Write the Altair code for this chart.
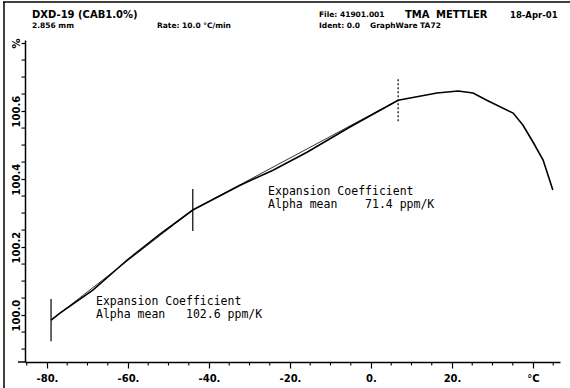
import altair as alt
import pandas as pd

# ---- data -------------------------------------------------------------
temperature = [-79.0, -76.8, -68.6, -60.2, -52.1, -44.0, -32.3, -24.2, -15.8, -5.2,
               6.7, 16.3, 21.5, 25.2, 28.6, 35.1, 37.5, 40.0, 42.5, 44.9]
length_pct = [99.985, 100.006, 100.074, 100.162, 100.238, 100.309, 100.382, 100.426,
              100.479, 100.553, 100.632, 100.653, 100.659, 100.653, 100.632, 100.594,
              100.559, 100.509, 100.456, 100.368]

marker_temp = [-79.0, -44.0, 6.7]
marker_len = [99.985, 100.309, 100.632]
marker_half = 0.062

x_major = [-80, -60, -40, -20, 0, 20, 40]
x_minor = [-85, -75, -70, -65, -55, -50, -45, -35, -30, -25, -15, -10, -5,
           5, 10, 15, 25, 30, 35, 45]
y_major = [100.0, 100.2, 100.4, 100.6, 100.8]
y_minor = [99.9, 99.95, 100.05, 100.1, 100.15, 100.25, 100.3, 100.35, 100.45,
           100.5, 100.55, 100.65, 100.7, 100.75]

ann_text = ["Expansion Coefficient", "Alpha mean\u00a0\u00a0\u00a0102.6 ppm/K",
            "Expansion Coefficient", "Alpha mean\u00a0\u00a0\u00a0\u00a071.4 ppm/K"]
ann_temp = [-67.9, -67.9, -25.4, -25.4]
ann_len = [100.038, 100.0, 100.362, 100.324]

x_domain = [-85.43, 46.67]
y_domain = [99.862, 100.809]

# ---- frames ------------------------------------------------------------
curve_df = pd.DataFrame({"T": temperature, "L": length_pct})
fit_df = pd.DataFrame({"T": marker_temp, "L": marker_len})
mark_df = pd.DataFrame({"T": marker_temp,
                        "lo": [v - marker_half for v in marker_len],
                        "hi": [v + marker_half for v in marker_len]})
ann_df = pd.DataFrame({"T": ann_temp, "L": ann_len, "txt": ann_text})
xminor_df = pd.DataFrame({"T": x_minor})
yminor_df = pd.DataFrame({"L": y_minor})

x_scale = alt.Scale(domain=x_domain, nice=False, zero=False)
y_scale = alt.Scale(domain=y_domain, nice=False, zero=False)

x_axis = alt.Axis(
    values=x_major,
    labelExpr="datum.value == 40 ? '°C' : datum.value + '.'",
    tickSize=6,
    domainColor="black", tickColor="black", domainWidth=1.5, tickWidth=1.2,
    labelFont="DejaVu Sans", labelFontWeight="bold", labelFontSize=10,
    labelColor="black", labelPadding=5, labelFlush=False, labelOverlap=False,
    title=None, grid=False,
)
y_axis = alt.Axis(
    values=y_major,
    labelExpr="datum.value > 100.79 ? '%' : format(datum.value, '.1f')",
    tickSize=4,
    domainColor="black", tickColor="black", domainWidth=1.5, tickWidth=1.2,
    labelFont="DejaVu Sans", labelFontWeight="bold", labelFontSize=10, labelColor="black",
    labelAngle=270, labelAlign="center", labelBaseline="bottom", labelPadding=0,
    labelFlush=False, labelOverlap=False, title=None, grid=False,
)

curve = alt.Chart(curve_df).mark_line(color="black", strokeWidth=1.6).encode(
    x=alt.X("T:Q", scale=x_scale, axis=x_axis),
    y=alt.Y("L:Q", scale=y_scale, axis=y_axis),
)
fit = alt.Chart(fit_df).mark_line(color="black", strokeWidth=0.8).encode(
    x=alt.X("T:Q", scale=x_scale), y=alt.Y("L:Q", scale=y_scale))
marks_solid = alt.Chart(mark_df.iloc[:2]).mark_rule(color="black", strokeWidth=1.2).encode(
    x=alt.X("T:Q", scale=x_scale), y=alt.Y("lo:Q", scale=y_scale), y2="hi:Q")
marks_dash = alt.Chart(mark_df.iloc[2:]).mark_rule(color="black", strokeWidth=1.2,
                                                   strokeDash=[2, 2]).encode(
    x=alt.X("T:Q", scale=x_scale), y=alt.Y("lo:Q", scale=y_scale), y2="hi:Q")
ann = alt.Chart(ann_df).mark_text(align="left", baseline="middle", font="DejaVu Sans Mono",
                                  fontSize=11.5, color="black").encode(
    x=alt.X("T:Q", scale=x_scale), y=alt.Y("L:Q", scale=y_scale), text="txt:N")

# minor ticks drawn from the tick-value lists through the same scales
xminor = alt.Chart(xminor_df).mark_rule(color="black", strokeWidth=1.1).encode(
    x=alt.X("T:Q", scale=x_scale), y=alt.value(322), y2=alt.value(325.5))
yminor = alt.Chart(yminor_df).mark_rule(color="black", strokeWidth=1.1).encode(
    y=alt.Y("L:Q", scale=y_scale), x=alt.value(0), x2=alt.value(-3.5))

one = pd.DataFrame({"a": [0]})


def label(txt, px, py, size=8, weight="bold", font="DejaVu Sans"):
    return alt.Chart(one).mark_text(align="left", baseline="middle", fontSize=size,
                                    fontWeight=weight, font=font, color="black",
                                    clip=False).encode(
        x=alt.value(px), y=alt.value(py), text=alt.value(txt))


headers = [
    label("DXD-19 (CAB1.0%)", 7, -25, size=10),
    label("2.856 mm", 7, -14, size=7.5),
    label("Rate: 10.0 °C/min", 132, -14, size=7.5),
    label("File: 41901.001", 294, -25, size=7.5),
    label("TMA", 380, -25, size=10),
    label("METTLER", 411, -25, size=10),
    label("18-Apr-01", 485, -25, size=8.5),
    label("Ident: 0.0", 294, -14, size=7.5),
    label("GraphWare TA72", 345, -14, size=7.5),
]

border_top = alt.Chart(one).mark_rule(color="black", strokeWidth=1.5).encode(
    x=alt.value(-22), x2=alt.value(545), y=alt.value(-38))
border_left = alt.Chart(one).mark_rule(color="black", strokeWidth=1.5).encode(
    x=alt.value(-21), y=alt.value(-38), y2=alt.value(348))
axis_stub = alt.Chart(one).mark_rule(color="black", strokeWidth=1.5).encode(
    x=alt.value(-7), x2=alt.value(0), y=alt.value(322))

chart = alt.layer(curve, fit, marks_solid, marks_dash, xminor, yminor, ann,
                  border_top, border_left, axis_stub, *headers).properties(
    width=535, height=322,
    padding={"left": 25, "top": 40, "right": 10, "bottom": 26},
    autosize=alt.AutoSizeParams(type="none"),
).configure_view(stroke=None)

chart.save("out.html", embed_options={"renderer": "svg", "actions": False})
